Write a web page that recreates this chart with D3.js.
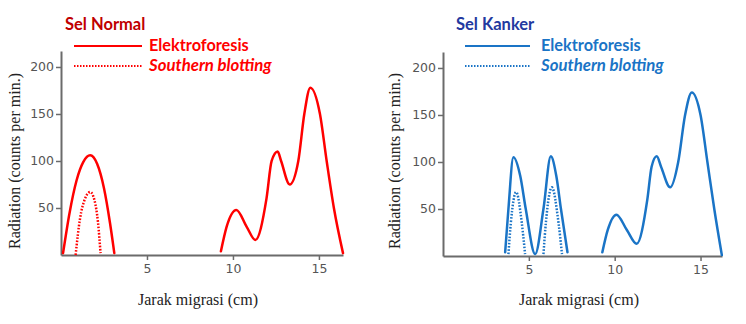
<!DOCTYPE html>
<html>
<head>
<meta charset="utf-8">
<script src="https://cdn.jsdelivr.net/npm/d3@7/dist/d3.min.js"></script>
<style>
  html, body { margin: 0; padding: 0; background: #fff; }
  svg { display: block; }
</style>
</head>
<body>
<svg id="chart" width="746" height="324"></svg>
<script>
// Tick values shared by both panels
const xTicks = [5, 10, 15];
const yTicks = [50, 100, 150, 200];

// Sel Normal – each trace is a list of separate segments of [distance cm, counts/min]
const normalElektroforesis = [
  [[0.12, 2], [0.5, 45], [0.9, 79], [1.3, 99], [1.7, 106], [2.1, 97], [2.5, 71],
   [2.85, 34], [3.1, 2]],
  [[9.3, 4], [9.63, 30], [10.2, 48], [10.8, 30], [11.3, 16], [11.95, 60], [12.25, 100],
   [12.6, 110], [12.8, 100], [13.3, 75], [13.8, 100], [14.15, 150], [14.5, 178],
   [15.06, 150], [15.45, 100], [15.87, 50], [16.4, 2]]
];
const normalSouthern = [
  [[0.85, 0], [1.1, 38], [1.4, 60], [1.7, 67], [1.95, 58], [2.15, 35], [2.3, 2]]
];

// Sel Kanker
const kankerElektroforesis = [
  [[3.62, 4], [3.81, 50], [4.1, 105], [4.5, 85], [4.82, 50], [5.37, 2], [5.85, 50],
   [6.28, 106], [6.6, 85], [6.87, 50], [7.25, 4]],
  [[9.28, 4], [9.6, 28], [10.1, 44], [10.7, 28], [11.28, 13], [11.9, 60], [12.15, 95],
   [12.45, 106], [12.7, 95], [13.23, 73], [13.7, 100], [14.1, 150], [14.49, 174],
   [15.0, 150], [15.4, 100], [15.8, 50], [16.24, 1]]
];
const kankerSouthern = [
  [[3.81, 2], [3.95, 35], [4.26, 68], [4.59, 35], [4.78, 2]],
  [[5.85, 2], [5.99, 35], [6.34, 73], [6.73, 35], [6.93, 2]]
];

const panels = [
  {
    title: "Sel Normal", titleColor: "#c00000", color: "#ff0000",
    elektro: normalElektroforesis, southern: normalSouthern,
    xDomain: [0, 16.4], xRange: [61, 343], yRange: [255, 51],
    titleX: 65, legendX0: 74, legendX1: 142, legendTextX: 149,
    yLabelX: 14, xLabelX: 198
  },
  {
    title: "Sel Kanker", titleColor: "#2339a0", color: "#1a74c6",
    elektro: kankerElektroforesis, southern: kankerSouthern,
    xDomain: [0, 16.25], xRange: [443, 722], yRange: [256, 52],
    titleX: 456, legendX0: 465, legendX1: 530, legendTextX: 541,
    yLabelX: 394, xLabelX: 579
  }
];

const svg = d3.select("#chart");
const axisColor = "#6b6b6b";

panels.forEach(p => {
  const x = d3.scaleLinear().domain(p.xDomain).range(p.xRange);
  const y = d3.scaleLinear().domain([0, 217]).range(p.yRange);
  const g = svg.append("g");

  // Axes
  const xAxis = g.append("g")
    .attr("transform", `translate(0,${p.yRange[0]})`)
    .call(d3.axisBottom(x).tickValues(xTicks).tickSize(5).tickPadding(4).tickSizeOuter(0));
  const yAxis = g.append("g")
    .attr("transform", `translate(${p.xRange[0]},0)`)
    .call(d3.axisLeft(y).tickValues(yTicks).tickSize(5).tickPadding(2).tickSizeOuter(0));
  [xAxis, yAxis].forEach(a => {
    a.select(".domain").attr("stroke", axisColor).attr("stroke-width", 2);
    a.selectAll(".tick line").attr("stroke", axisColor).attr("stroke-width", 1.5);
    a.selectAll(".tick text")
      .attr("fill", "#555")
      .style("font-family", "'DejaVu Sans', sans-serif")
      .style("font-size", "12.5px");
  });

  // Traces
  const line = d3.line()
    .x(d => x(d[0]))
    .y(d => y(d[1]))
    .curve(d3.curveMonotoneX);

  g.selectAll("path.elektro")
    .data(p.elektro)
    .join("path")
    .attr("class", "elektro")
    .attr("d", line)
    .attr("fill", "none")
    .attr("stroke", p.color)
    .attr("stroke-width", 2.5)
    .attr("stroke-linecap", "round");

  g.selectAll("path.southern")
    .data(p.southern)
    .join("path")
    .attr("class", "southern")
    .attr("d", line)
    .attr("fill", "none")
    .attr("stroke", p.color)
    .attr("stroke-width", 2.5)
    .attr("stroke-dasharray", "1.6 1.6");

  // Axis titles
  g.append("text")
    .attr("x", p.xLabelX).attr("y", 305)
    .attr("text-anchor", "middle")
    .attr("fill", "#222")
    .style("font-family", "'Liberation Serif', serif")
    .style("font-size", "16px")
    .text("Jarak migrasi (cm)");
  g.append("text")
    .attr("transform", `translate(${p.yLabelX},161) rotate(-90)`)
    .attr("text-anchor", "middle")
    .attr("dominant-baseline", "central")
    .attr("fill", "#222")
    .style("font-family", "'Liberation Serif', serif")
    .style("font-size", "16px")
    .text("Radiation (counts per min.)");

  // Panel title and legend
  const bold = "Lato, 'Open Sans', sans-serif";
  g.append("text")
    .attr("x", p.titleX).attr("y", 30)
    .attr("fill", p.titleColor)
    .style("font-family", bold).style("font-weight", "bold").style("font-size", "16.5px")
    .text(p.title);

  g.append("line")
    .attr("x1", p.legendX0).attr("x2", p.legendX1).attr("y1", 46).attr("y2", 46)
    .attr("stroke", p.color).attr("stroke-width", 2);
  g.append("line")
    .attr("x1", p.legendX0).attr("x2", p.legendX1).attr("y1", 66).attr("y2", 66)
    .attr("stroke", p.color).attr("stroke-width", 2).attr("stroke-dasharray", "1.5 1.5");

  g.append("text")
    .attr("x", p.legendTextX).attr("y", 51)
    .attr("fill", p.color)
    .style("font-family", bold).style("font-weight", "bold").style("font-size", "16.3px")
    .text("Elektroforesis");
  g.append("text")
    .attr("x", p.legendTextX).attr("y", 71)
    .attr("fill", p.color)
    .style("font-family", bold).style("font-weight", "bold").style("font-style", "italic")
    .style("font-size", "16.8px")
    .text("Southern blotting");
});
</script>
</body>
</html>
